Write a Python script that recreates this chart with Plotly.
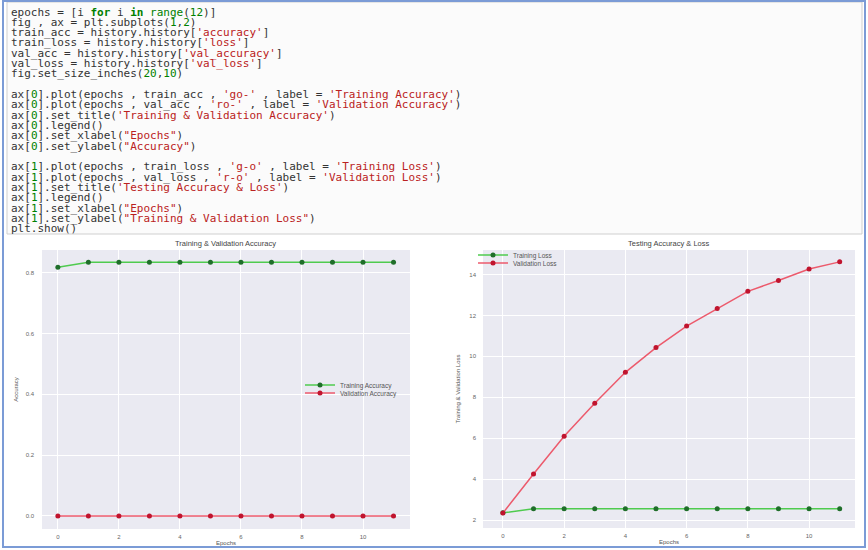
import re
import plotly.graph_objects as go

W, H = 868, 550

# ---------------- data ----------------
epochs = list(range(12))
train_acc = [0.818, 0.835, 0.835, 0.835, 0.835, 0.835, 0.835, 0.835, 0.835, 0.835, 0.835, 0.835]
val_acc = [0.0] * 12
train_loss = [2.35, 2.55, 2.55, 2.55, 2.55, 2.55, 2.55, 2.55, 2.55, 2.55, 2.55, 2.55]
val_loss = [2.34, 4.25, 6.09, 7.71, 9.22, 10.43, 11.48, 12.34, 13.18, 13.71, 14.27, 14.62]

acc_ticks = [0.0, 0.2, 0.4, 0.6, 0.8]
loss_ticks = [2, 4, 6, 8, 10, 12, 14]
epoch_ticks = [0, 2, 4, 6, 8, 10]

code_lines = [
    "epochs = [i for i in range(12)]",
    "fig , ax = plt.subplots(1,2)",
    "train_acc = history.history['accuracy']",
    "train_loss = history.history['loss']",
    "val_acc = history.history['val_accuracy']",
    "val_loss = history.history['val_loss']",
    "fig.set_size_inches(20,10)",
    "",
    "ax[0].plot(epochs , train_acc , 'go-' , label = 'Training Accuracy')",
    "ax[0].plot(epochs , val_acc , 'ro-' , label = 'Validation Accuracy')",
    "ax[0].set_title('Training & Validation Accuracy')",
    "ax[0].legend()",
    "ax[0].set_xlabel(\"Epochs\")",
    "ax[0].set_ylabel(\"Accuracy\")",
    "",
    "ax[1].plot(epochs , train_loss , 'g-o' , label = 'Training Loss')",
    "ax[1].plot(epochs , val_loss , 'r-o' , label = 'Validation Loss')",
    "ax[1].set_title('Testing Accuracy & Loss')",
    "ax[1].legend()",
    "ax[1].set_xlabel(\"Epochs\")",
    "ax[1].set_ylabel(\"Training & Validation Loss\")",
    "plt.show()",
]


def px(x):
    return x / W


def py(y):
    return 1 - y / H


def highlight(line):
    tok = re.compile(r"('[^']*'|\"[^\"]*\")|\b(for|in)\b|\b(range)\b|\b(\d+)\b")
    out = []
    pos = 0
    for m in tok.finditer(line):
        out.append(line[pos:m.start()])
        s = m.group(0).replace("&", "&amp;")
        if m.group(1):
            out.append('<span style="color:#BA2121">' + s + '</span>')
        elif m.group(2):
            out.append('<span style="color:#008000"><b>' + s + '</b></span>')
        else:
            out.append('<span style="color:#008000">' + s + '</span>')
        pos = m.end()
    out.append(line[pos:])
    return "".join(out)


fig = go.Figure()

green_line = "#4FCB4F"
green_mk = "#1F6E2A"
red_line = "#EC5A6C"
red_mk = "#C0142E"

fig.add_trace(go.Scatter(x=epochs, y=train_acc, mode="lines+markers", name="Training Accuracy",
                         line=dict(color=green_line, width=1.5),
                         marker=dict(color=green_mk, size=5), xaxis="x", yaxis="y", legend="legend"))
fig.add_trace(go.Scatter(x=epochs, y=val_acc, mode="lines+markers", name="Validation Accuracy",
                         line=dict(color=red_line, width=1.5),
                         marker=dict(color=red_mk, size=5), xaxis="x", yaxis="y", legend="legend2"))
fig.add_trace(go.Scatter(x=epochs, y=train_loss, mode="lines+markers", name="Training Loss",
                         line=dict(color=green_line, width=1.5),
                         marker=dict(color=green_mk, size=5), xaxis="x2", yaxis="y2", legend="legend3"))
fig.add_trace(go.Scatter(x=epochs, y=val_loss, mode="lines+markers", name="Validation Loss",
                         line=dict(color=red_line, width=1.5),
                         marker=dict(color=red_mk, size=5), xaxis="x2", yaxis="y2", legend="legend4"))

tickfont = dict(family="Liberation Sans, Arial, sans-serif", size=6, color="#666")
axis_common = dict(showgrid=True, gridcolor="white", gridwidth=1, zeroline=False,
                   showline=False, ticks="", ticklen=0, tickfont=tickfont)


def ttl_font():
    return dict(family="Liberation Sans, Arial, sans-serif", size=6, color="#555555")


fig.update_layout(
    width=W, height=H,
    margin=dict(l=0, r=0, t=0, b=0),
    paper_bgcolor="white",
    plot_bgcolor="#EAEAF2",
    showlegend=True,
    xaxis=dict(domain=[px(42), px(410)], range=[-0.52, 11.54], tickvals=epoch_ticks,
               anchor="y", ticklabelstandoff=3,
               title=dict(text="Epochs", font=ttl_font(), standoff=1),
               **axis_common),
    yaxis=dict(domain=[py(529), py(250)], range=[-0.043, 0.875], tickvals=acc_ticks,
               tickformat=".1f", anchor="x", ticklabelstandoff=7,
               title=dict(text="Accuracy", font=ttl_font(), standoff=6),
               **axis_common),
    xaxis2=dict(domain=[px(483), px(855)], range=[-0.65, 11.5], tickvals=epoch_ticks,
                anchor="y2", ticklabelstandoff=3,
                title=dict(text="Epochs", font=ttl_font(), standoff=1),
                **axis_common),
    yaxis2=dict(domain=[py(528), py(250)], range=[1.61, 15.2], tickvals=loss_ticks,
                anchor="x2", ticklabelstandoff=6,
                title=dict(text="Training & Validation Loss", font=ttl_font(), standoff=8),
                **axis_common),
)

leg_common = dict(bgcolor="rgba(0,0,0,0)", borderwidth=0, itemwidth=30,
                  font=dict(family="Liberation Sans, Arial, sans-serif", size=6.5, color="#555"),
                  xanchor="left", yanchor="middle")
fig.update_layout(
    legend=dict(x=px(300), y=py(385), **leg_common),
    legend2=dict(x=px(300), y=py(393), **leg_common),
    legend3=dict(x=px(473), y=py(255), **leg_common),
    legend4=dict(x=px(473), y=py(263), **leg_common),
)

# titles
title_font = dict(family="Liberation Sans, Arial, sans-serif", size=7.5, color="#444")
fig.add_annotation(text="Training & Validation Accuracy", x=px(226), y=py(244), xref="paper", yref="paper",
                   showarrow=False, font=title_font, xanchor="center", yanchor="middle")
fig.add_annotation(text="Testing Accuracy & Loss", x=px(669), y=py(244), xref="paper", yref="paper",
                   showarrow=False, font=title_font, xanchor="center", yanchor="middle")

# code cell
code_font = dict(family="DejaVu Sans Mono, monospace", size=11, color="#333")
y0, dy = 12, 10.33
for i, line in enumerate(code_lines):
    if not line:
        continue
    fig.add_annotation(text=highlight(line), x=px(10), y=py(y0 + i * dy), xref="paper", yref="paper",
                       showarrow=False, font=code_font, xanchor="left", yanchor="middle", align="left",
                       borderpad=0)

fig.add_shape(type="rect", xref="paper", yref="paper", x0=px(7), x1=px(862), y0=py(234), y1=py(2),
              line=dict(color="#CFCFCF", width=1), fillcolor="#FBFBFB", layer="below")
fig.add_shape(type="rect", xref="paper", yref="paper", x0=px(3), x1=px(865), y0=py(547), y1=py(1),
              line=dict(color="#7B9BD6", width=2), fillcolor="rgba(0,0,0,0)", layer="above")

fig.write_html("out.html", config={"displayModeBar": False},
               post_script="document.body.style.margin='0';")
